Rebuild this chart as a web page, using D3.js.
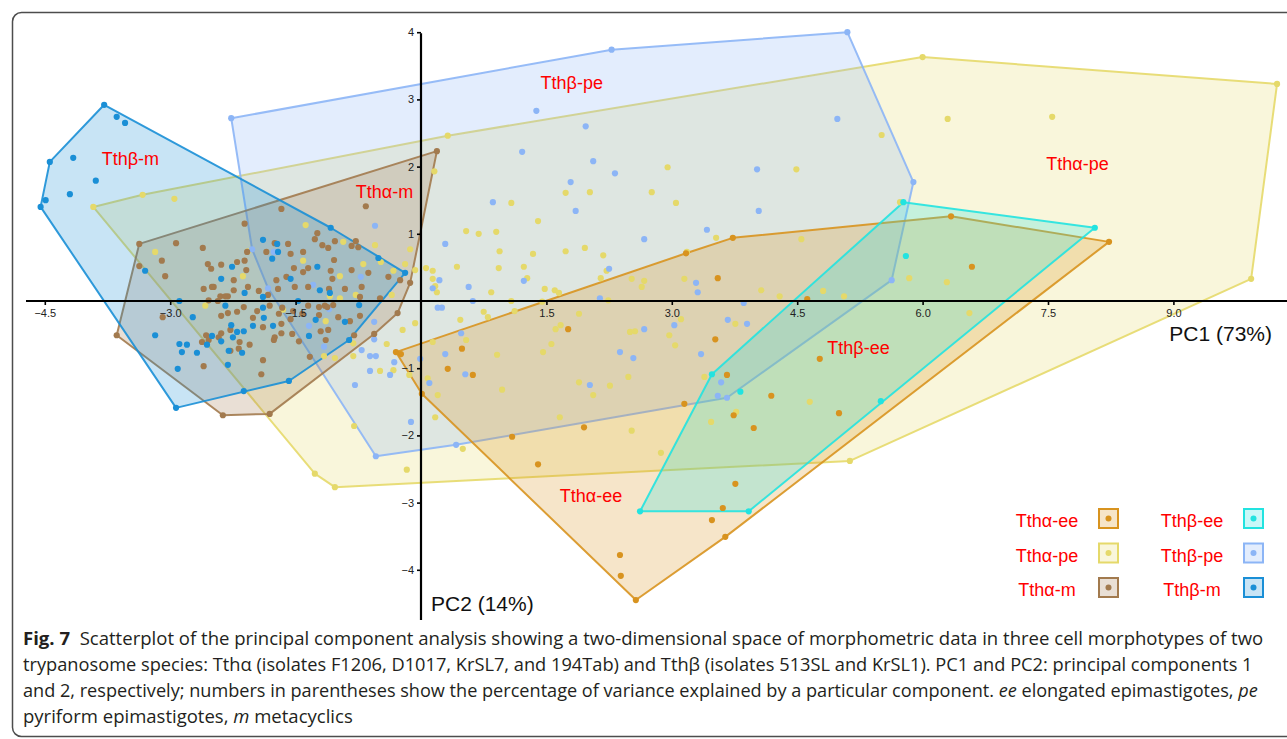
<!DOCTYPE html>
<html>
<head>
<meta charset="utf-8">
<script src="https://cdn.jsdelivr.net/npm/d3@7"></script>
<style>
  body { margin: 0; background: #fff; }
  svg { display: block; }
</style>
</head>
<body>
<div id="chart"></div>
<script>
// PCA scores, one array per group: [PC1, PC2]
const alphaEE = [
  [-0.30,-0.76],[-0.24,-0.79],[0.01,-1.38],[2.57,-4.45],[3.64,-3.51],[8.23,0.88],[6.34,1.26],[3.73,0.94],[3.17,0.71],
  [3.55,0.34],[4.62,0.03],[6.59,0.51],[1.76,-0.42],[0.49,-0.71],[0.32,-1.01],[0.62,-1.10],[3.52,-0.57],[3.66,-1.10],
  [3.15,-1.53],[3.74,-1.70],[3.98,-1.89],[4.19,-1.41],[4.77,-0.86],[5.00,-1.67],[1.95,-1.88],[1.09,-2.02],[1.40,-2.43],
  [3.76,-2.72],[3.61,-3.08],[3.48,-3.26],[2.38,-3.78],[2.39,-4.09]
];
const alphaPE = [
  [-3.92,1.40],[-3.33,1.58],[0.32,2.46],[6.00,3.63],[10.24,3.23],[9.93,0.33],[5.13,-2.38],[-1.03,-2.77],[-1.27,-2.57],
  [-2.95,1.52],[-1.38,1.13],[-0.93,0.88],[-0.55,0.83],[-0.13,0.77],[-0.07,0.46],[0.06,0.49],[-0.19,0.55],[-0.33,0.45],
  [-0.48,0.58],[-0.69,0.55],[-1.41,0.60],[-2.07,0.74],[-2.13,0.37],[-0.97,0.37],[-1.09,0.07],[-0.97,0.04],[-0.78,0.09],
  [-0.35,0.09],[-2.58,-0.07],[-3.18,0.73],[-1.65,-0.13],[-1.14,-0.30],[-0.81,-0.63],[-1.03,-0.85],[-1.16,-0.82],
  [-0.07,-0.33],[-0.22,-0.43],[-0.49,-1.04],[-0.33,-1.03],[-0.81,-0.82],[-0.14,-1.10],[-0.80,-1.86],[-0.17,-2.51],
  [-0.41,-0.64],[0.08,-1.15],[0.16,1.93],[1.08,1.46],[1.73,1.61],[2.02,1.62],[2.76,1.62],[2.95,1.99],[3.05,1.46],
  [4.49,1.96],[1.40,1.19],[0.54,1.04],[0.69,1.00],[0.90,1.03],[0.94,0.74],[1.73,0.74],[1.96,0.79],[2.18,0.68],
  [1.34,0.70],[0.43,0.51],[0.93,0.49],[1.23,0.51],[1.27,0.34],[2.15,0.34],[2.22,0.45],[2.52,0.33],[2.67,0.30],
  [2.64,0.21],[3.18,0.73],[3.15,0.33],[3.53,0.94],[4.55,0.92],[4.07,0.16],[4.29,0.07],[4.81,0.15],[5.06,0.07],
  [1.48,0.18],[1.60,0.16],[1.65,0.12],[0.84,0.13],[0.14,0.45],[0.14,0.33],[0.17,0.22],[0.19,0.13],[1.08,0.00],
  [2.24,0.01],[1.45,-0.01],[5.51,2.47],[6.30,2.71],[7.55,2.74],[5.73,1.47],[5.84,0.34],[6.29,0.28],
  [0.47,-0.28],[0.54,-0.58],[0.14,-0.61],[0.80,-0.24],[0.75,-0.16],[0.91,-0.80],[1.12,-0.15],[1.46,-0.76],
  [1.56,-0.64],[1.61,-0.42],[1.67,-0.36],[1.89,-0.19],[0.97,-1.32],[0.20,-1.40],[0.17,-1.73],[0.50,-2.20],
  [1.66,-1.73],[1.89,-1.21],[2.06,-1.40],[2.26,-1.26],[2.48,-1.13],[2.50,-0.46],[2.56,-0.45],[2.97,-0.51],
  [3.04,-0.66],[3.11,-0.27],[2.52,-1.93],[2.87,-2.26],[3.39,-1.13],[3.47,-1.80],[3.76,-0.34],[3.77,-1.65],
  [4.65,-1.50],[6.56,-0.18]
];
const alphaM = [
  [0.19,2.23],[-3.37,0.85],[-3.64,-0.51],[-2.37,-1.70],[-1.81,-1.68],[-0.56,-0.49],[-0.28,-0.18],[-0.13,0.27],
  [-0.66,1.41],[-1.67,1.37],[-2.11,1.15],[-1.24,1.01],[-1.27,0.92],[-1.75,0.86],[-1.59,0.85],[-1.85,0.73],
  [-1.56,0.70],[-1.41,0.73],[-1.18,0.83],[-1.11,0.79],[-1.03,0.89],[-0.83,0.82],[-0.75,0.80],[-0.78,0.89],
  [-1.04,0.61],[-1.08,0.45],[-1.35,0.49],[-1.52,0.49],[-1.41,0.43],[-1.73,0.31],[-1.61,0.36],[-2.09,0.46],
  [-2.11,0.60],[-2.08,0.73],[-2.39,0.54],[-2.51,0.48],[-2.61,0.79],[-2.93,0.86],[-3.10,0.60],[-3.37,0.52],
  [-3.06,0.37],[-0.63,0.42],[-0.39,0.36],[-0.25,0.31],[-0.83,0.46],[-0.71,0.21],[-0.91,0.18],[-1.06,0.33],
  [-1.10,0.18],[-1.35,0.21],[-1.51,0.21],[-1.71,0.18],[-1.83,0.09],[-1.94,0.15],[-2.07,0.21],[-2.24,0.16],
  [-2.48,0.21],[-2.60,0.18],[-2.31,0.07],[-2.40,0.07],[-2.54,0.01],[-0.73,0.06],[-0.49,0.04],[-1.15,-0.07],
  [-3.09,-0.24],[-2.60,-0.97],[-1.91,-1.09],[-1.89,-0.88],[-2.05,-0.65],[-1.75,-0.54],[-1.67,-0.48],[-1.54,-0.49],
  [-1.46,-0.60],[-1.33,-0.83],[-1.11,-0.43],[-0.99,-0.24],[-1.22,-0.21],[-1.67,-0.34],[-1.89,-0.39],[-2.01,-0.25],
  [-2.20,-0.16],[-2.39,-0.22],[-2.57,-0.51],[-2.62,-0.61],[-2.54,-0.58],[-2.39,-0.48],[-2.28,-0.43],[-2.17,-0.61],
  [-2.31,-0.18],[-2.12,-0.09],[-1.96,-0.15],[-1.81,-0.07],[-1.70,-0.19],[-1.56,-0.27],[-1.42,-0.19],[-1.35,-0.07],
  [-1.22,-0.09],[-1.12,-0.09],[-1.05,-0.06],[-1.53,-0.15],[-1.66,-0.10],[-2.42,-0.54],[-1.14,-0.58],[-0.80,-0.51],
  [-0.73,-0.22],[-0.85,-0.30],[-1.20,-0.45],[-2.28,-0.74],[-2.18,-0.71],[-1.76,-0.58],[-2.50,0.21],[-2.55,0.55],
  [-2.20,0.58],[-2.24,0.31],[-2.34,0.07],[-2.43,0.00]
];
const betaEE = [
  [5.77,1.47],[8.06,1.09],[5.50,-1.49],[3.92,-3.13],[2.62,-3.13],[3.48,-1.09],[5.80,0.67],[3.82,-1.35]
];
const betaPE = [
  [-2.27,2.72],[-2.02,0.77],[-1.83,0.19],[-0.54,-2.31],[0.42,-2.14],[3.66,-1.44],[5.63,0.31],[5.89,1.77],[5.10,4.00],
  [2.28,3.74],[1.38,2.83],[1.97,2.60],[1.21,2.22],[2.06,2.08],[2.32,1.90],[1.79,1.77],[1.85,1.34],[0.86,1.47],
  [0.29,0.85],[2.67,0.92],[4.02,1.96],[4.04,1.34],[4.98,2.71],[3.42,1.06],[2.25,0.48],[3.29,0.27],[3.31,0.13],
  [2.14,0.04],[3.86,-0.03],[1.23,0.30],[0.57,0.21],[0.22,0.31],[0.14,0.19],[0.62,0.00],[0.20,-0.10],[0.25,-0.10],
  [2.67,-0.42],[3.03,-0.36],[3.67,-0.28],[3.90,-0.34],[2.38,-0.76],[2.54,-0.85],[3.35,-0.79],[3.59,-1.21],
  [3.55,-1.41],[2.02,-1.25],[0.48,-0.48],[0.29,-0.79],[0.53,-1.09],[0.10,-1.22],[-0.12,-1.80],[-0.01,-0.86],
  [-1.34,-0.37],[-1.16,-0.68],[-0.71,-0.73],[-0.56,-0.31],[-0.56,-0.57],[-0.61,-0.82],[-0.54,-0.82],[-0.61,-1.04],
  [-0.37,-1.10],[-0.32,-0.91],[-0.79,-1.25],[-0.55,1.12],[-0.72,0.36],[-1.29,0.24],[-1.76,0.73],[-1.10,-0.12]
];
const betaM = [
  [-3.79,2.92],[-4.44,2.07],[-4.49,1.50],[-4.55,1.40],[-2.93,-1.59],[-2.12,-1.34],[-1.58,-1.19],[-0.86,-0.58],
  [-0.19,0.42],[-1.08,1.09],[-3.64,2.74],[-3.54,2.65],[-4.16,2.13],[-3.89,1.79],[-4.20,1.59],
  [-1.89,0.91],[-1.72,0.85],[-1.71,0.73],[-1.78,0.63],[-2.26,0.51],[-2.39,0.33],[-1.56,0.33],[-1.24,0.51],
  [-1.21,0.16],[-1.09,0.12],[-0.51,0.64],[-0.74,-0.06],[-0.91,-0.31],[-1.26,-0.28],[-1.34,-0.52],[-1.47,0.00],
  [-1.89,0.06],[-2.11,0.12],[-2.34,-0.07],[-1.88,-0.25],[-1.77,-0.37],[-2.27,-0.36],[-2.20,-0.46],[-2.12,-0.45],
  [-2.25,-0.54],[-2.39,-0.60],[-2.56,-0.65],[-2.50,-0.52],[-2.30,-0.74],[-2.14,-0.77],[-2.31,-0.95],[-2.68,-0.77],
  [-2.80,-0.65],[-2.89,-0.64],[-2.86,-0.76],[-3.18,-0.51],[-2.91,-1.01],[-2.73,-0.24],[-2.89,0.00],[-3.30,0.45],
  [-2.01,-0.37],[-1.89,-0.10]
];

const groupNames = ["Tthα-pe", "Tthβ-pe", "Tthα-ee", "Tthβ-ee", "Tthα-m", "Tthβ-m"];
const groupPoints = [alphaPE, betaPE, alphaEE, betaEE, alphaM, betaM];
const groupColors = ["#e5d96a", "#8cb5f6", "#d8931f", "#22e3e0", "#a27a4e", "#1a8fd6"];
// left end / baseline of each group's red name, in data units
const labelAt = [[7.48, 1.95], [1.43, 3.15], [1.66, -2.99], [4.86, -0.79], [-0.78, 1.53], [-3.82, 2.02]];

const legendNames = ["Tthα-ee", "Tthα-pe", "Tthα-m", "Tthβ-ee", "Tthβ-pe", "Tthβ-m"];
const xTicks = [-4.5, -3.0, -1.5, 1.5, 3.0, 4.5, 6.0, 7.5, 9.0];
const yTicks = [-4, -3, -2, -1, 1, 2, 3, 4];

const width = 1287, height = 739;
const svg = d3.select("#chart").append("svg")
  .attr("width", width)
  .attr("height", height)
  .attr("font-family", "'Liberation Sans', Arial, sans-serif");

const x = d3.scaleLinear().domain([-4.5, 9]).range([44.8, 1173.4]);
const y = d3.scaleLinear().domain([-4, 4]).range([569.8, 32.2]);

// frame
svg.append("rect")
  .attr("x", 12.5).attr("y", 12.5)
  .attr("width", 1300).attr("height", 724)
  .attr("rx", 9)
  .attr("fill", "none")
  .attr("stroke", "#4d4d4d")
  .attr("stroke-width", 1.5);

// hulls
const hulls = svg.append("g");
groupPoints.forEach((pts, i) => {
  let hull = d3.polygonHull(pts.map((d) => [x(d[0]), y(d[1])]));
  hulls.append("path")
    .attr("d", "M" + hull.join("L") + "Z")
    .attr("fill", groupColors[i])
    .attr("fill-opacity", 0.24)
    .attr("stroke", groupColors[i])
    .attr("stroke-opacity", 0.9)
    .attr("stroke-width", 2)
    .attr("stroke-linejoin", "round");
});

// points
groupPoints.forEach((pts, i) => {
  svg.append("g")
    .selectAll("circle")
    .data(pts)
    .join("circle")
    .attr("cx", (d) => x(d[0]))
    .attr("cy", (d) => y(d[1]))
    .attr("r", 3.1)
    .attr("fill", groupColors[i]);
});

// axes
const xAxis = svg.append("g")
  .attr("transform", `translate(0,${y(0)})`)
  .call(d3.axisBottom(x).tickValues(xTicks).tickFormat(d3.format(".1f")).tickSize(4).tickSizeOuter(0));
xAxis.select(".domain").remove();
xAxis.append("line")
  .attr("x1", 26).attr("x2", width)
  .attr("stroke", "#000").attr("stroke-width", 2.2);

const yAxis = svg.append("g")
  .attr("transform", `translate(${x(0)},0)`)
  .call(d3.axisLeft(y).tickValues(yTicks).tickFormat(d3.format("d")).tickSize(4).tickSizeOuter(0));
yAxis.select(".domain").remove();
yAxis.append("line")
  .attr("y1", y(4) + 1).attr("y2", 620)
  .attr("stroke", "#000").attr("stroke-width", 2.2);

svg.selectAll(".tick line").attr("stroke", "#000").attr("stroke-width", 1.6);
svg.selectAll(".tick text")
  .attr("font-size", 11)
  .attr("font-family", "'Liberation Sans', Arial, sans-serif")
  .attr("fill", "#222");
xAxis.selectAll(".tick text").attr("dy", "0.85em").attr("y", 7);
yAxis.selectAll(".tick text").attr("x", -7);

svg.append("text")
  .attr("x", 1272).attr("y", y(-0.59))
  .attr("text-anchor", "end")
  .attr("font-size", 21)
  .attr("fill", "#111")
  .text("PC1 (73%)");
svg.append("text")
  .attr("x", x(0) + 10).attr("y", y(-4.61))
  .attr("font-size", 21)
  .attr("fill", "#111")
  .text("PC2 (14%)");

// group names
svg.append("g")
  .selectAll("text")
  .data(groupNames)
  .join("text")
  .attr("x", (d, i) => x(labelAt[i][0]))
  .attr("y", (d, i) => y(labelAt[i][1]))
  .attr("font-size", 18)
  .attr("fill", "#ff0000")
  .text((d) => d);

// legend
const legend = svg.append("g");
legendNames.forEach((name, i) => {
  let col = Math.floor(i / 3), row = i % 3;
  let color = groupColors[groupNames.indexOf(name)];
  let g = legend.append("g")
    .attr("transform", `translate(${1047 + col * 145},${518 + row * 34.5})`);
  g.append("text")
    .attr("y", 9)
    .attr("text-anchor", "middle")
    .attr("font-size", 18)
    .attr("fill", "#ff0000")
    .text(name);
  g.append("rect")
    .attr("x", 52).attr("y", -9)
    .attr("width", 19).attr("height", 19)
    .attr("fill", color).attr("fill-opacity", 0.24)
    .attr("stroke", color).attr("stroke-width", 2);
  g.append("circle")
    .attr("cx", 61.5).attr("cy", 0.5).attr("r", 3)
    .attr("fill", color);
});

// caption, each line squeezed horizontally to the width it has in the figure
const caption = svg.append("g")
  .attr("font-family", "'Open Sans', 'Noto Sans', sans-serif")
  .attr("font-size", 18.5)
  .attr("fill", "#231f20");
const lines = [
  [["Fig. 7", "b"], ["  Scatterplot of the principal component analysis showing a two-dimensional space of morphometric data in three cell morphotypes of two", ""]],
  [["trypanosome species: Tthα (isolates F1206, D1017, KrSL7, and 194Tab) and Tthβ (isolates 513SL and KrSL1). PC1 and PC2: principal components 1", ""]],
  [["and 2, respectively; numbers in parentheses show the percentage of variance explained by a particular component. ", ""], ["ee", "i"], [" elongated epimastigotes, ", ""], ["pe", "i"]],
  [["pyriform epimastigotes, ", ""], ["m", "i"], [" metacyclics", ""]]
];
const lineEnds = [1264, 1253, 1259, 353];
lines.forEach((parts, i) => {
  let t = caption.append("text")
    .attr("xml:space", "preserve");
  parts.forEach((p) => {
    t.append("tspan")
      .attr("font-weight", p[1] === "b" ? 700 : 400)
      .attr("font-style", p[1] === "i" ? "italic" : "normal")
      .text(p[0]);
  });
  let w = t.node().getComputedTextLength();
  t.attr("transform", `translate(23,${645 + i * 26}) scale(${(lineEnds[i] - 23) / w},1)`);
});
</script>
</body>
</html>
